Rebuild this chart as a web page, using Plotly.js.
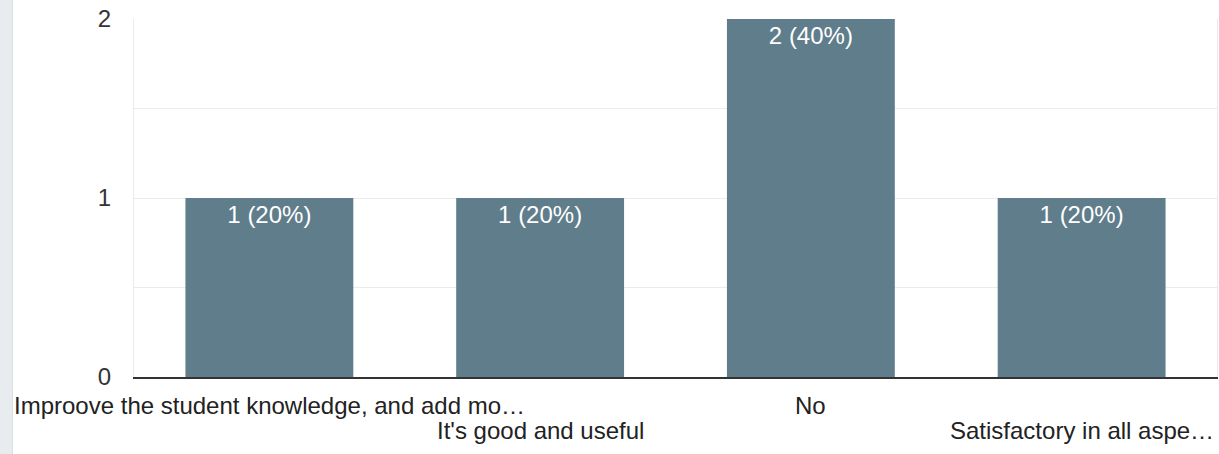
<!DOCTYPE html>
<html>
<head>
<meta charset="utf-8">
<script src="https://cdn.plot.ly/plotly-3.0.1.min.js"></script>
<style>
  html, body { margin: 0; padding: 0; background: #ffffff; width: 1219px; height: 454px; overflow: hidden; }
  #strip { position: absolute; left: 0; top: 0; width: 12px; height: 454px; background: #e8ecef; border-right: 1px solid #d9dee2; }
  #chart { position: absolute; left: 0; top: 0; width: 1219px; height: 454px; }
</style>
</head>
<body>
<div id="chart"></div>
<div id="strip"></div>
<script>
// Data
const categories = [
  "Improove the student knowledge, and add mo…",
  "It's good and useful",
  "No",
  "Satisfactory in all aspe…"
];
const counts = [1, 1, 2, 1];
const barLabels = ["1 (20%)", "1 (20%)", "2 (40%)", "1 (20%)"];
const yTickVals = [0, 1, 2];
const yTickText = ["0", "1", "2"];

const idx = categories.map((_, i) => i);

const FONT = "Arial, 'Liberation Sans', sans-serif";
const FS = 24;

const trace = {
  type: "bar",
  x: idx,
  y: counts,
  text: barLabels,
  textposition: "inside",
  insidetextanchor: "end",
  textangle: 0,
  textfont: { family: FONT, size: FS, color: "#ffffff" },
  marker: { color: "#607d8b" },
  hoverinfo: "skip",
  cliponaxis: false
};

// category labels alternate between two rows under the axis
const annotations = idx.map(i => ({
  xref: "x",
  yref: "paper",
  x: i,
  y: 0,
  xanchor: "center",
  yanchor: "middle",
  yshift: i % 2 === 0 ? -28 : -53,
  showarrow: false,
  text: categories[i],
  font: { family: FONT, size: FS, color: "#222222" }
}));

const layout = {
  width: 1219,
  height: 454,
  margin: { l: 134, r: 2, t: 19, b: 77, pad: 0 },
  paper_bgcolor: "#ffffff",
  plot_bgcolor: "#ffffff",
  showlegend: false,
  bargap: 0.38,
  font: { family: FONT, size: FS, color: "#333333" },
  annotations: annotations,
  xaxis: {
    type: "linear",
    range: [-0.5, categories.length - 0.5],
    showticklabels: false,
    showgrid: false,
    zeroline: false,
    showline: true,
    linecolor: "#333333",
    linewidth: 2,
    ticks: "",
    fixedrange: true
  },
  yaxis: {
    range: [0, 2],
    tickmode: "array",
    tickvals: yTickVals,
    ticktext: yTickText,
    showgrid: true,
    gridcolor: "#ebebeb",
    gridwidth: 1,
    minor: { tickmode: "linear", tick0: 0, dtick: 0.5, showgrid: true, gridcolor: "#ebebeb", gridwidth: 1, ticks: "" },
    zeroline: false,
    showline: true,
    mirror: true,
    linecolor: "#ebebeb",
    linewidth: 1,
    ticks: "",
    ticklabelstandoff: 17,
    tickfont: { family: FONT, size: FS, color: "#333333" },
    fixedrange: true
  }
};

Plotly.newPlot("chart", [trace], layout, { displayModeBar: false, staticPlot: true });
</script>
</body>
</html>
